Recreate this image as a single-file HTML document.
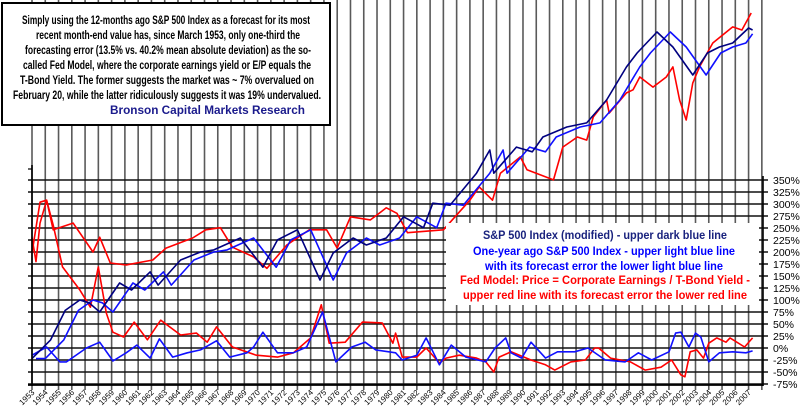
<!DOCTYPE html>
<html><head><meta charset="utf-8"><style>
html,body{margin:0;padding:0;background:#fff;}
svg{display:block;font-family:"Liberation Sans",Arial,sans-serif;}
</style></head><body>
<svg id="chart" width="800" height="414" viewBox="0 0 800 414" xmlns="http://www.w3.org/2000/svg">
<g id="grid"></g>
<g id="series"></g>
<g id="axes"></g>
<g>
<rect x="2" y="3" width="328" height="122" fill="#fff" stroke="#000" stroke-width="2"/>
<g font-size="11.5" font-weight="bold" fill="#000">
<text x="22" y="24" textLength="288" lengthAdjust="spacingAndGlyphs">Simply using the 12-months ago S&amp;P 500 Index as a forecast for its most</text>
<text x="36" y="39" textLength="264" lengthAdjust="spacingAndGlyphs">recent  month-end value has, since March 1953, only one-third the</text>
<text x="25" y="54" textLength="286" lengthAdjust="spacingAndGlyphs">forecasting error (13.5% vs. 40.2% mean absolute deviation) as the so-</text>
<text x="23" y="69" textLength="288" lengthAdjust="spacingAndGlyphs">called Fed Model, where the corporate earnings yield or E/P equals the</text>
<text x="20" y="84" textLength="294" lengthAdjust="spacingAndGlyphs">T-Bond Yield.  The former suggests the market was ~ 7% overvalued on</text>
<text x="13" y="99" textLength="308" lengthAdjust="spacingAndGlyphs">February 20, while the latter ridiculously suggests it was 19% undervalued.</text>
<text x="110" y="114" textLength="195" lengthAdjust="spacingAndGlyphs" fill="#1a1a8c">Bronson Capital Markets Research</text>
</g></g>
<g>
<rect x="446" y="223" width="313" height="82" fill="#fff"/>
<g font-size="12" font-weight="bold">
<text x="483" y="239" textLength="244" lengthAdjust="spacingAndGlyphs" fill="#1a237e">S&amp;P 500 Index (modified) - upper dark blue line</text>
<text x="473" y="255" textLength="262" lengthAdjust="spacingAndGlyphs" fill="#0000ff">One-year ago S&amp;P 500 Index - upper light blue line</text>
<text x="485" y="270" textLength="238" lengthAdjust="spacingAndGlyphs" fill="#0000ff">with its forecast error the lower light blue line</text>
<text x="460" y="284" textLength="290" lengthAdjust="spacingAndGlyphs" fill="#ff0000">Fed Model: Price = Corporate Earnings / T-Bond Yield -</text>
<text x="463" y="299" textLength="284" lengthAdjust="spacingAndGlyphs" fill="#ff0000">upper red line with its forecast error the lower red line</text>
</g></g>
</svg>
<script>
const darkYears=[1953,1954.4,1955.5,1956.6,1957.3,1958.1,1959.6,1960.5,1961.9,1962.5,1964.2,1965.7,1966.7,1968.7,1970.4,1971.5,1973,1974.7,1975.7,1977.2,1978.2,1979.7,1981,1982.5,1983.2,1984.5,1986.5,1987.5,1987.8,1989.5,1990.7,1991.5,1993.3,1994.8,1996.3,1997.8,1998.6,2000.1,2001.3,2002.8,2003.9,2004.8,2005.8,2007,2007.3];
const darkValues=[21,26.7,39,44.6,43,38.2,55.5,50.7,64,54,74.6,82.7,85,99,68,96.6,110,57.7,81.6,99,90.5,99,130,113,155,151,228,307,228,319,300,363,413,435,584,894,1069,1402,1156,806,1069,1156,1216,1476,1438];
const lightYears=[1953.3,1954,1955.4,1956.5,1957.6,1958.3,1959.1,1960.6,1961.5,1962.9,1963.5,1965.2,1966.7,1967.7,1969.7,1971.4,1972.5,1974,1975.7,1976.7,1978.2,1979.2,1980.7,1982,1983.5,1984.2,1985.5,1987.5,1988.5,1988.8,1990.5,1991.7,1992.5,1994.3,1995.8,1997.3,1998.8,1999.6,2001.1,2002.3,2003.8,2004.9,2005.8,2006.8,2007.3];
const lightValues=[21,21,26.7,39,44.6,43,38.2,55.5,50.7,64,54,74.6,82.7,85,99,68,96.6,110,57.7,81.6,99,90.5,99,130,113,155,151,228,307,228,319,300,363,413,435,584,894,1069,1402,1156,806,1069,1156,1216,1370];
const redYears=[1953,1953.6,1954.1,1954.6,1956.1,1957.6,1958.1,1958.9,1960.1,1962.1,1963.1,1965.1,1966.1,1967.2,1968.1,1969.7,1970.7,1972.2,1973.9,1975.2,1976,1977,1978.5,1979.7,1980.5,1981.3,1984,1986,1986.7,1987.7,1988.3,1989.8,1990.3,1992.3,1993,1994.1,1994.8,1995.3,1996.3,1996.5,1997.8,1998.3,1998.8,1999.8,2000.8,2001.3,2001.8,2002.3,2002.8,2003.3,2004.3,2005.8,2006.5,2007.2];
const redValues=[81.6,157,161,110,120,82.7,100,71.8,70,74.6,87,99,110,113,88,77.6,67,90.5,110,110,87,130,125,146,136,106,110,161,191,161,228,281,238,209,319,363,349,470,584,494,640,666,785,690,785,894,584,452,728,894,1216,1496,1438,1790];
const errBlueYears=[1953,1954.1,1955.1,1955.6,1957.1,1958.1,1958.9,1959.1,1960.1,1960.9,1961.9,1962.6,1963.6,1964.7,1965.7,1966.9,1967.9,1969.2,1969.7,1970.4,1971.5,1972.7,1973.7,1974.9,1975.9,1977.1,1978.1,1978.9,1980.4,1980.9,1982,1982.7,1983.7,1984.6,1985.7,1987.2,1987.9,1988.7,1989.1,1989.9,1990.6,1991.7,1992.6,1993.9,1994.9,1996.2,1997.7,1998.7,1999.7,2001,2001.5,2001.9,2002.5,2003,2003.4,2004,2004.8,2005.8,2006.8,2007.3];
const errBlueValues=[-15,2,-29,-29,0,12,-19,-27,-10,6,-21,19,-19,-10,-4,15,-19,-10,2,33,-10,-10,2,75,-29,2,12,-4,-10,-25,-15,21,-35,6,-19,-29,0,21,-10,-21,12,-21,-8,-8,0,-25,-29,-10,-25,-8,31,33,2,31,23,-29,-10,-8,-10,-6];
const errRedYears=[1953,1953.3,1953.6,1954.1,1954.6,1955.3,1956.6,1957.4,1958,1958.6,1959.1,1959.9,1960.7,1961.7,1962.7,1964.2,1965.4,1966.2,1966.9,1968.1,1969.9,1971.5,1972.7,1974,1974.8,1975.4,1976.6,1977.9,1979.4,1980.2,1980.4,1980.9,1982,1982.7,1983.7,1984.2,1985.2,1986.5,1987.2,1987.8,1988.2,1989.1,1990.6,1991.7,1992.4,1993.6,1994.7,1995.4,1995.7,1996.6,1998.1,1999.2,2000.4,2001.2,2001.9,2002.2,2002.6,2003.1,2003.6,2004,2004.6,2005.3,2005.6,2006.7,2007.3];
const errRedValues=[230,180,260,308,256,169,121,85,169,73,33,23,54,17,58,27,31,12,44,2,-15,-19,-10,21,90,10,12,54,52,10,31,-19,-19,0,-31,-21,-15,-21,-29,-50,-19,-8,-25,-35,-46,-29,-25,0,0,-21,-29,-46,-40,-25,-56,-60,-8,-4,-21,10,21,12,21,2,21];
const pctTicks=[350,325,300,275,250,225,200,175,150,125,100,75,50,25,0,-25,-50,-75];
const yearTicks=[];for(let y=1953;y<=2007;y++)yearTicks.push(y);

const NS='http://www.w3.org/2000/svg';
const xS=yr=>32+(yr-1953)*13.27;
const yU=v=>345-(Math.log10(v)-Math.log10(25))*179;
const yL=p=>348-p*0.48;
function mk(tag,attrs,parent){const e=document.createElementNS(NS,tag);for(const k in attrs)e.setAttribute(k,attrs[k]);parent.appendChild(e);return e;}
const grid=document.getElementById('grid'),series=document.getElementById('series'),axes=document.getElementById('axes');

// vertical year grid lines
yearTicks.concat([2008]).forEach(yr=>{
  const l=mk('line',{x1:xS(yr),x2:xS(yr),y1:0,y2:390,stroke:'#5a5a5a','stroke-width':1.6},grid);
  
  
});
// horizontal pct grid lines
pctTicks.forEach(p=>{
  const l=mk('line',{x1:28,x2:768,y1:yL(p),y2:yL(p),stroke:'#111','stroke-width':1.4},grid);
  
  
  const t=mk('text',{x:773,y:yL(p)+4,'font-size':10.5,fill:'#000'},axes);
  t.textContent=p+'%';
  
  
});
mk('line',{x1:32,x2:32,y1:165,y2:386,stroke:'#000','stroke-width':1.6},axes);
mk('line',{x1:28,x2:32,y1:169,y2:169,stroke:'#000','stroke-width':1.2},axes);
mk('line',{x1:763,x2:763,y1:176,y2:386,stroke:'#000','stroke-width':1.6},axes);
mk('line',{x1:28,x2:763,y1:385,y2:385,stroke:'#000','stroke-width':1.8},axes);
yearTicks.forEach(yr=>{
  const x=xS(yr)+3,y=393;
  const t=mk('text',{x:x,y:y,'font-size':8,fill:'#000','text-anchor':'end',transform:'rotate(-45 '+x+' '+y+')'},axes);
  t.textContent=yr;
  
  
});

function line(xs,vs,ys,color,name){
  const d=xs.map((x,i)=>(i?'L':'M')+xS(x).toFixed(1)+' '+ys(vs[i]).toFixed(1)).join(' ');
  const p=mk('path',{d:d,fill:'none',stroke:color,'stroke-width':1.6,'stroke-linejoin':'round'},series);
  
  
}
line(errRedYears,errRedValues,yL,'#ff0000','fed-model-error-line');
line(errBlueYears,errBlueValues,yL,'#1010ff','one-year-ago-error-line');
line(redYears,redValues,yU,'#ff0000','fed-model-line');
line(lightYears,lightValues,yU,'#1010ff','one-year-ago-line');
line(darkYears,darkValues,yU,'#000080','sp500-line');
</script>
</body></html>
